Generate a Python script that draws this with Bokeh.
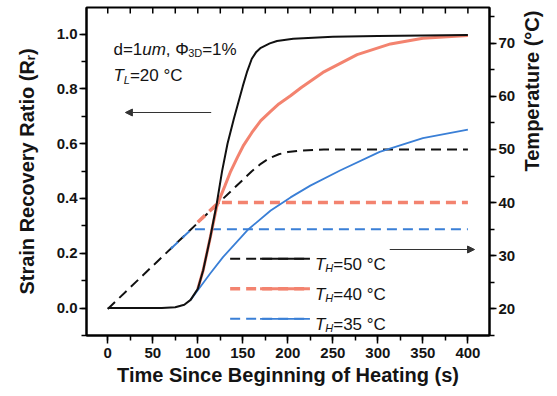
from math import pi
from bokeh.plotting import figure
from bokeh.models import (Range1d, LinearAxis, SingleIntervalTicker, Label, Arrow,
                          NormalHead, PrintfTickFormatter)
from bokeh.embed import file_html
from bokeh.resources import INLINE

# ---------------- data ----------------
# strain recovery ratio R_r vs time (s)
t_50 = [0, 60, 75, 85, 92, 100, 106, 114, 121, 127, 133, 140, 150, 155, 160, 165, 170, 180, 188, 206, 250, 300, 350, 400]
r_50 = [0, 0, 0.003, 0.012, 0.03, 0.07, 0.138, 0.26, 0.38, 0.50, 0.60, 0.69, 0.81, 0.865, 0.91, 0.935, 0.95, 0.966, 0.975, 0.983, 0.99, 0.993, 0.995, 0.997]
t_40 = [100, 106, 114, 121, 125, 130, 136, 144, 151, 160, 170, 180, 190, 203, 215, 239, 277, 314, 350, 400]
r_40 = [0.07, 0.138, 0.26, 0.37, 0.405, 0.445, 0.495, 0.55, 0.595, 0.64, 0.684, 0.715, 0.745, 0.775, 0.805, 0.86, 0.925, 0.964, 0.985, 0.995]
t_35 = [92, 100, 114, 128, 155, 181, 203, 225, 258, 302, 350, 400]
r_35 = [0.03, 0.065, 0.127, 0.186, 0.284, 0.356, 0.404, 0.447, 0.502, 0.570, 0.620, 0.651]
# temperature (deg C) vs time (s); the 40/35 ramps are visible only near their plateau
tT_50 = [0, 160, 170, 180, 190, 200, 215, 240, 400]
T_50 = [20, 45.9, 47.3, 48.4, 49.1, 49.5, 49.8, 50, 50]
tT_40 = [100, 123, 400]
T_40 = [36.3, 40, 40]
tT_35 = [70, 93, 400]
T_35 = [31.3, 35, 35]

legend_labels = ["=50 \u00b0C", "=40 \u00b0C", "=35 \u00b0C"]
top_ticks = list(range(0, 401, 25))

# ---------------- layout constants ----------------
W, H = 557, 396
FL, FR, FT, FB = 86, 490, 7, 335          # frame edges in px
X0, X1 = -23.6, 424.0
Y0, Y1 = -0.1, 1.097
TY0, TY1 = 15.0, 76.7
FONT = "Liberation Sans"
INK = "#141414"
C_BLACK = "#111111"
C_RED = "#f3836f"
C_BLUE = "#3a7fd6"


def X(px):
    return X0 + (px - FL) * (X1 - X0) / (FR - FL)


def Y(py):
    return Y0 + (FB - py) * (Y1 - Y0) / (FB - FT)


W_REG = {' ': 278, '%': 889, ',': 278, '=': 584, 'C': 722, 'D': 722, 'H': 722, 'L': 556,
         'T': 611, 'd': 556, 'm': 833, 'u': 556, '\u03a6': 764, '\u00b0': 400}


def text_width(s, size):
    return sum(W_REG.get(ch, 556) for ch in s) * size / 1000.0


p = figure(width=W, height=H, output_backend="svg", toolbar_location=None,
           x_range=Range1d(X0, X1), y_range=Range1d(Y0, Y1),
           min_border_left=FL, min_border_right=W - FR, min_border_top=FT,
           min_border_bottom=H - FB)
p.xgrid.visible = False
p.ygrid.visible = False
p.outline_line_color = "black"
p.outline_line_width = 2
p.background_fill_color = "white"
p.border_fill_color = "white"


def rich(pieces, px, py):
    pos = 0.0
    for txt, size, style, shift in pieces:
        p.add_layout(Label(x=X(px + pos), y=Y(py + shift), text=txt, text_font=FONT,
                           text_font_size=f"{size}px", text_font_style=style,
                           text_color=INK, text_align="left",
                           text_baseline="alphabetic"))
        pos += text_width(txt, size)


def style_axis(ax, tick_out, minor_out, standoff):
    ax.axis_line_width = 2
    ax.axis_line_color = "black"
    ax.major_tick_line_width = 1.5
    ax.minor_tick_line_width = 1.5
    ax.major_tick_line_color = "black"
    ax.minor_tick_line_color = "black"
    ax.major_tick_in = 0
    ax.minor_tick_in = 0
    ax.major_tick_out = tick_out
    ax.minor_tick_out = minor_out
    ax.major_label_standoff = standoff
    ax.major_label_text_font = FONT
    ax.major_label_text_font_size = "15px"
    ax.major_label_text_font_style = "bold"
    ax.major_label_text_color = INK
    ax.axis_label_text_font = FONT
    ax.axis_label_text_font_size = "20px"
    ax.axis_label_text_font_style = "bold"
    ax.axis_label_text_color = INK


# bottom axis
xa = p.xaxis[0]
xa.ticker = SingleIntervalTicker(interval=50, num_minor_ticks=2)
style_axis(xa, 8, 5, 4)
xa.axis_label = "Time Since Beginning of Heating (s)"
xa.axis_label_standoff = 3
# left axis
ya = p.yaxis[0]
ya.ticker = SingleIntervalTicker(interval=0.2, num_minor_ticks=2)
ya.formatter = PrintfTickFormatter(format="%.1f")
style_axis(ya, 7, 5, 2)
ya.axis_label = "Strain Recovery Ratio (R\u1d63)"
ya.axis_label_standoff = 16
# right temperature axis
p.extra_y_ranges = {"temp": Range1d(TY0, TY1)}
ra = LinearAxis(y_range_name="temp", ticker=SingleIntervalTicker(interval=10, num_minor_ticks=2))
style_axis(ra, 7, 5, 2)
ra.axis_label = "Temperature (\u00b0C)"
ra.axis_label_standoff = 14
ra.axis_label_orientation = pi / 2
p.add_layout(ra, "right")

# top-edge inward ticks
tick_len = 6 * (Y1 - Y0) / (FB - FT)
p.segment(x0=top_ticks, y0=[Y1] * len(top_ticks), x1=top_ticks,
          y1=[Y1 - tick_len] * len(top_ticks), line_color="black", line_width=1.5)

# temperature curves (dashed)
p.line(tT_50, T_50, y_range_name="temp", line_color=C_BLACK, line_width=2, line_dash="10 6")
p.line(tT_40, T_40, y_range_name="temp", line_color=C_RED, line_width=3.5, line_dash="10 6")
p.line(tT_35, T_35, y_range_name="temp", line_color=C_BLUE, line_width=2, line_dash="10 6")
# recovery ratio curves (solid)
p.line(t_40, r_40, line_color=C_RED, line_width=3)
p.line(t_35, r_35, line_color=C_BLUE, line_width=1.8)
p.line(t_50, r_50, line_color=C_BLACK, line_width=2)

# legend (drawn by hand: dashed + solid sample)
leg_colors = [C_BLACK, C_RED, C_BLUE]
leg_widths = [(2, 2), (3.5, 3), (2, 1.8)]
for i, (col, lab) in enumerate(zip(leg_colors, legend_labels)):
    ly = 258.3 + 30 * i
    p.line([X(230), X(310)], [Y(ly), Y(ly)], line_color=col, line_width=leg_widths[i][0], line_dash="10 6")
    p.line([X(260), X(310)], [Y(ly), Y(ly)], line_color=col, line_width=leg_widths[i][1])
    rich([("T", 17, "italic", 0), ("H", 11, "italic", 4), (lab, 17, "normal", 0)], 315, ly + 5.2)

# annotation text
rich([("d=1", 17, "normal", 0), ("um", 17, "italic", 0), (", \u03a6", 17, "normal", 0),
      ("3D", 11, "normal", 4), ("=1%", 17, "normal", 0)], 113, 48.5)
rich([("T", 17, "italic", 0), ("L", 11, "italic", 4), ("=20 \u00b0C", 17, "normal", 0)], 113, 75)

# arrows
for xs, xe, yy in [(211, 125, 112), (390, 475, 249)]:
    p.add_layout(Arrow(x_start=X(xs), y_start=Y(yy), x_end=X(xe), y_end=Y(yy),
                       line_color="#333333", line_width=1,
                       end=NormalHead(size=7, fill_color="#333333", line_color="#333333")))

open("out.html", "w").write(file_html(p, INLINE))
